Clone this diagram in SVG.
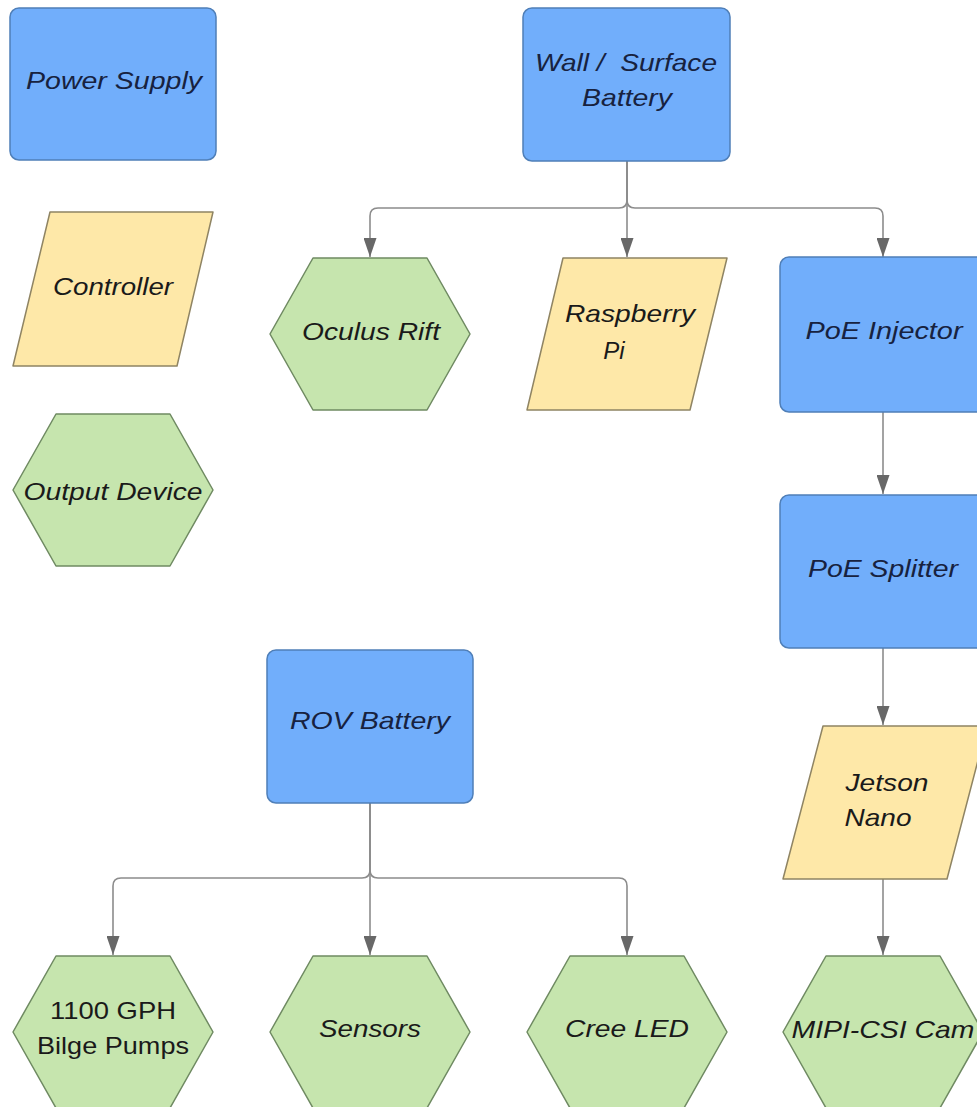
<svg xmlns="http://www.w3.org/2000/svg" width="977" height="1107" viewBox="0 0 977 1107">
<style>
.blue{fill:#71aefb;stroke:#4f7fb8;stroke-width:1.5}
.yel{fill:#fee8a8;stroke:#8f8463;stroke-width:1.5;stroke-linejoin:round}
.grn{fill:#c6e5ae;stroke:#6f8a62;stroke-width:1.5;stroke-linejoin:round}
.t{font-family:"Liberation Sans",Arial,sans-serif;font-size:24px;font-style:italic;text-anchor:middle;fill:#1a1a1a}
.tb{fill:#17223f}
.n{font-style:normal}
.c{fill:none;stroke:#8c8c8c;stroke-width:1.6}
</style>
<defs>
<marker id="ah" markerUnits="userSpaceOnUse" markerWidth="19" markerHeight="13" refX="19" refY="6.5" viewBox="0 0 19 13" orient="auto">
<path d="M0,0 L19,6.5 L0,13 Z" fill="#686868"/>
</marker>
</defs>
<rect width="977" height="1107" fill="#ffffff"/>
<g id="connectors">
<path class="c" d="M627,161 V200 Q627,208 619,208 H378 Q370,208 370,216 V257" marker-end="url(#ah)"/>
<path class="c" d="M627,161 V200 Q627,208 635,208 H875 Q883,208 883,216 V257" marker-end="url(#ah)"/>
<path class="c" d="M627,161 V257" marker-end="url(#ah)"/>
<path class="c" d="M883,412 V494" marker-end="url(#ah)"/>
<path class="c" d="M883,648 V725" marker-end="url(#ah)"/>
<path class="c" d="M883,879 V955" marker-end="url(#ah)"/>
<path class="c" d="M370,803 V870 Q370,878 362,878 H121 Q113,878 113,886 V955" marker-end="url(#ah)"/>
<path class="c" d="M370,803 V870 Q370,878 378,878 H619 Q627,878 627,886 V955" marker-end="url(#ah)"/>
<path class="c" d="M370,803 V955" marker-end="url(#ah)"/>
</g>
<g id="power-supply">
<rect class="blue" x="10" y="8" width="206" height="152" rx="9"/>
<text class="t tb" x="114" y="89" textLength="176" lengthAdjust="spacingAndGlyphs">Power Supply</text>
</g>
<g id="controller">
<path class="yel" d="M50,212 H213 L177,366 H13 Z"/>
<text class="t" x="113" y="295" textLength="120" lengthAdjust="spacingAndGlyphs">Controller</text>
</g>
<g id="output-device">
<path class="grn" d="M56,414 H170 L213,490 L170,566 H56 L13,490 Z"/>
<text class="t" x="113" y="500" textLength="179" lengthAdjust="spacingAndGlyphs">Output Device</text>
</g>
<g id="wall-battery">
<rect class="blue" x="523" y="8" width="207" height="153" rx="9"/>
<text class="t tb" x="626" y="71" textLength="182" lengthAdjust="spacingAndGlyphs" xml:space="preserve" style="white-space:pre">Wall /  Surface</text>
<text class="t tb" x="627" y="106" textLength="90" lengthAdjust="spacingAndGlyphs">Battery</text>
</g>
<g id="oculus-rift">
<path class="grn" d="M313,258 H427 L470,334 L427,410 H313 L270,334 Z"/>
<text class="t" x="371" y="340" textLength="138" lengthAdjust="spacingAndGlyphs">Oculus Rift</text>
</g>
<g id="raspberry-pi">
<path class="yel" d="M563,258 H727 L690,410 H527 Z"/>
<text class="t" x="630" y="322" textLength="130" lengthAdjust="spacingAndGlyphs">Raspberry</text>
<text class="t" x="614" y="359">Pi</text>
</g>
<g id="poe-injector">
<rect class="blue" x="780" y="257" width="206" height="155" rx="9"/>
<text class="t tb" x="884" y="339" textLength="157" lengthAdjust="spacingAndGlyphs">PoE Injector</text>
</g>
<g id="poe-splitter">
<rect class="blue" x="780" y="495" width="206" height="153" rx="9"/>
<text class="t tb" x="883" y="577" textLength="150" lengthAdjust="spacingAndGlyphs">PoE Splitter</text>
</g>
<g id="jetson-nano">
<path class="yel" d="M823,726 H987 L947,879 H783 Z"/>
<text class="t" x="887" y="791" textLength="83" lengthAdjust="spacingAndGlyphs">Jetson</text>
<text class="t" x="878" y="826" textLength="67" lengthAdjust="spacingAndGlyphs">Nano</text>
</g>
<g id="rov-battery">
<rect class="blue" x="267" y="650" width="206" height="153" rx="9"/>
<text class="t tb" x="370" y="729" textLength="160" lengthAdjust="spacingAndGlyphs">ROV Battery</text>
</g>
<g id="bilge-pumps">
<path class="grn" d="M56,956 H170 L213,1032 L170,1108 H56 L13,1032 Z"/>
<text class="t n" x="113" y="1019" textLength="126" lengthAdjust="spacingAndGlyphs">1100 GPH</text>
<text class="t n" x="113" y="1054" textLength="152" lengthAdjust="spacingAndGlyphs">Bilge Pumps</text>
</g>
<g id="sensors">
<path class="grn" d="M313,956 H427 L470,1032 L427,1108 H313 L270,1032 Z"/>
<text class="t" x="370" y="1037" textLength="102" lengthAdjust="spacingAndGlyphs">Sensors</text>
</g>
<g id="cree-led">
<path class="grn" d="M570,956 H684 L727,1032 L684,1108 H570 L527,1032 Z"/>
<text class="t" x="627" y="1037" textLength="124" lengthAdjust="spacingAndGlyphs">Cree LED</text>
</g>
<g id="mipi-csi-cam">
<path class="grn" d="M826,956 H940 L983,1032 L940,1108 H826 L783,1032 Z"/>
<text class="t" x="883" y="1038" textLength="183" lengthAdjust="spacingAndGlyphs">MIPI-CSI Cam</text>
</g>
</svg>
